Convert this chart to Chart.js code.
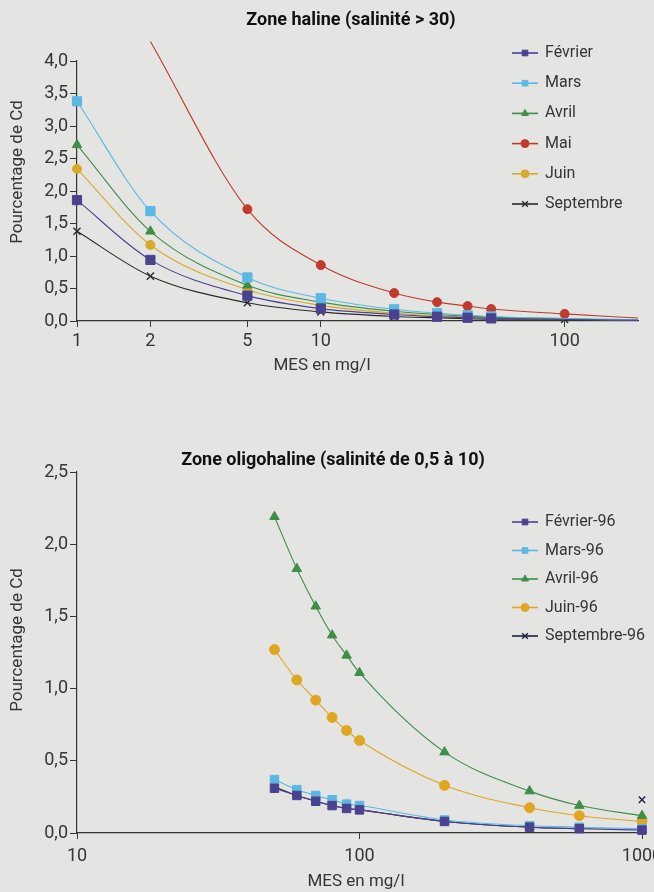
<!DOCTYPE html>
<html lang="fr">
<head>
<meta charset="utf-8">
<title>Pourcentage de Cd en fonction des MES</title>
<script src="https://cdn.jsdelivr.net/npm/chart.js@4.4.0/dist/chart.umd.min.js"></script>
<style>
  html, body { margin: 0; padding: 0; background: #e4e5e2; overflow: hidden; width: 654px; height: 892px; }
  canvas { position: absolute; left: 0; }
  #haline { top: 0; }
  #oligo { top: 440px; }
</style>
</head>
<body>
<canvas id="haline" width="680" height="390"></canvas>
<canvas id="oligo" width="680" height="452"></canvas>
<script>
// ---- DATA: zone haline (salinité > 30) ----
const hX = [1, 2, 5, 10, 20, 30, 40, 50, 100];
const hTicks = [1, 2, 5, 10, 100];
const hFevrier   = [1.86, 0.94, 0.39, 0.19, 0.10, 0.066, 0.050, 0.040, null];
const hMars      = [3.38, 1.69, 0.67, 0.35, 0.18, 0.12, 0.090, 0.070, null];
const hAvril     = [2.71, 1.38, 0.55, 0.29, 0.15, 0.10, 0.075, 0.060, null];
const hMai       = [null, null, 1.72, 0.86, 0.43, 0.29, 0.23, 0.185, 0.11];
const hJuin      = [2.34, 1.17, 0.48, 0.24, 0.12, 0.08, 0.060, 0.048, null];
const hSeptembre = [1.38, 0.69, 0.28, 0.14, 0.07, 0.05, 0.035, 0.028, 0.025];
// the fitted curves run on past the markers (no marker drawn there)
const hCurveEndX = 200;
const hCurveEnd = [0.010, 0.017, 0.014, 0.045, 0.012, 0.008];
const hMaiCurveStart = [2, 4.3];

// ---- DATA: zone oligohaline (salinité de 0,5 à 10) ----
const oX = [50, 60, 70, 80, 90, 100, 200, 400, 600, 1000];
const oTicks = [10, 100, 1000];
const oFevrier   = [0.31, 0.26, 0.22, 0.19, 0.17, 0.16, 0.08, 0.04, 0.03, 0.02];
const oMars      = [0.37, 0.30, 0.26, 0.23, 0.20, 0.19, 0.09, 0.05, 0.04, 0.03];
const oAvril     = [2.19, 1.83, 1.57, 1.37, 1.23, 1.11, 0.56, 0.29, 0.19, 0.12];
const oJuin      = [1.27, 1.06, 0.92, 0.80, 0.71, 0.64, 0.33, 0.175, 0.12, 0.08];
const oSeptembre = [0.32, 0.26, 0.22, 0.19, 0.17, 0.16, 0.08, 0.04, 0.03, 0.23];

const FONT = "Roboto, 'Liberation Sans', sans-serif";
const INK = '#353535';

// ---- helpers ----
function points(xs, ys) {
    return xs.map((x, i) => ({ x: x, y: ys[i], m: true })).filter(p => p.y !== null);
}

function series(label, color, style, radius, pts) {
    return {
        label: label,
        data: pts.sort((a, b) => a.x - b.x),
        borderColor: color,
        backgroundColor: color,
        borderWidth: 1.1,
        pointStyle: style,
        pointRadius: ctx => (ctx.raw && ctx.raw.m ? radius : 0),
        pointBorderWidth: style === 'crossRot' ? 1.4 : 1,
        pointBorderColor: color,
        pointBackgroundColor: color,
        cubicInterpolationMode: 'monotone',
        spanGaps: true,
        clip: false
    };
}

function decimal(v) {
    return Number(v).toFixed(1).replace('.', ',');
}

function axes(xMin, xMax, xTicks, yMax, xHeight, xPad) {
    return {
        x: {
            type: 'logarithmic',
            min: xMin,
            max: xMax,
            afterBuildTicks: s => { s.ticks = xTicks.map(v => ({ value: v })); },
            afterFit: s => { s.height = xHeight; },
            ticks: { color: INK, font: { family: FONT, size: 18 }, padding: xPad, maxRotation: 0, callback: v => String(v) },
            grid: { drawOnChartArea: false, drawTicks: true, tickLength: 6, color: INK, lineWidth: 1 },
            border: { color: INK, width: 1.2 }
        },
        y: {
            min: 0,
            max: yMax,
            afterFit: s => { s.width = 77; },
            ticks: { stepSize: 0.5, color: INK, font: { family: FONT, size: 18 }, padding: 2, callback: decimal },
            grid: { drawOnChartArea: false, drawTicks: true, tickLength: 7, color: INK, lineWidth: 1 },
            border: { color: INK, width: 1.2 }
        }
    };
}

// titles, axis titles and the in-plot legend
const textPlugin = {
    id: 'texts',
    afterDraw(chart, args, o) {
        const ctx = chart.ctx;
        ctx.save();
        ctx.fillStyle = '#111';
        ctx.textAlign = 'center';
        ctx.textBaseline = 'middle';
        ctx.font = 'bold 18px ' + FONT;
        ctx.fillText(o.title[0], o.title[1], o.title[2]);
        ctx.fillStyle = INK;
        ctx.font = '17px ' + FONT;
        ctx.fillText(o.xTitle[0], o.xTitle[1], o.xTitle[2]);
        ctx.save();
        ctx.translate(o.yTitle[1], o.yTitle[2]);
        ctx.rotate(-Math.PI / 2);
        ctx.fillText(o.yTitle[0], 0, 0);
        ctx.restore();

        // legend
        const [lx, ly, step] = o.legend;
        chart.data.datasets.forEach((ds, i) => {
            const y = ly + i * step;
            ctx.strokeStyle = ds.borderColor;
            ctx.fillStyle = ds.borderColor;
            ctx.lineWidth = 1.6;
            ctx.beginPath();
            ctx.moveTo(lx, y);
            ctx.lineTo(lx + 26, y);
            ctx.stroke();
            if (Chart.helpers && Chart.helpers.drawPoint) {
                ctx.lineWidth = ds.pointBorderWidth;
                Chart.helpers.drawPoint(ctx, { pointStyle: ds.pointStyle, radius: 4, rotation: 0, borderWidth: ds.pointBorderWidth }, lx + 13, y);
            }
            ctx.fillStyle = INK;
            ctx.textAlign = 'left';
            ctx.font = '16px ' + FONT;
            ctx.fillText(ds.label, lx + 33, y);
        });
        ctx.restore();
    }
};

// ---- chart 1: zone haline ----
const hCurveEndPts = i => [{ x: hCurveEndX, y: hCurveEnd[i], m: false }];

new Chart(document.getElementById('haline'), {
    type: 'line',
    data: {
        datasets: [
            series('Février', '#4a428f', 'rect', 6.5, points(hX, hFevrier).concat(hCurveEndPts(0))),
            series('Mars', '#5bb8e3', 'rect', 6.5, points(hX, hMars).concat(hCurveEndPts(1))),
            series('Avril', '#3f8e48', 'triangle', 5.5, points(hX, hAvril).concat(hCurveEndPts(2))),
            series('Mai', '#c23a2c', 'circle', 4.5,
                points(hX, hMai).concat(hCurveEndPts(3), [{ x: hMaiCurveStart[0], y: hMaiCurveStart[1], m: false }])),
            series('Juin', '#d6aa2a', 'circle', 4.5, points(hX, hJuin).concat(hCurveEndPts(4))),
            series('Septembre', '#2a2a2a', 'crossRot', 5, points(hX, hSeptembre).concat(hCurveEndPts(5)))
        ]
    },
    options: {
        responsive: false,
        animation: false,
        layout: { padding: { top: 61, right: 42, bottom: 0, left: 0 } },
        scales: axes(1, 200, hTicks, 4, 69, 4),
        plugins: {
            legend: { display: false },
            tooltip: { enabled: false },
            texts: {
                title: ['Zone haline (salinité > 30)', 351, 20],
                xTitle: ['MES en mg/l', 322, 366],
                yTitle: ['Pourcentage de Cd', 18, 172],
                legend: [512, 53, 30.2]
            }
        }
    },
    plugins: [textPlugin]
});

// ---- chart 2: zone oligohaline ----
const oSeptLast = oX.length - 1;

const oDatasets = [
    series('Février-96', '#4a428f', 'rect', 6, points(oX, oFevrier)),
    series('Mars-96', '#5bb8e3', 'rect', 6, points(oX, oMars)),
    series('Avril-96', '#3f8e48', 'triangle', 5.5, points(oX, oAvril)),
    series('Juin-96', '#e0a622', 'circle', 5, points(oX, oJuin)),
    series('Septembre-96', '#1e2044', 'crossRot', 4.5, points(oX, oSeptembre))
];
// the last Septembre point stands alone, not joined to the curve
oDatasets[4].segment = { borderColor: ctx => (ctx.p1DataIndex === oSeptLast ? 'rgba(0,0,0,0)' : undefined) };

new Chart(document.getElementById('oligo'), {
    type: 'line',
    data: { datasets: oDatasets },
    options: {
        responsive: false,
        animation: false,
        layout: { padding: { top: 32, right: 38, bottom: 0, left: 0 } },
        scales: axes(10, 1000, oTicks, 2.5, 59, 7),
        plugins: {
            legend: { display: false },
            tooltip: { enabled: false },
            texts: {
                title: ['Zone oligohaline (salinité de 0,5 à 10)', 333, 20],
                xTitle: ['MES en mg/l', 356, 442],
                yTitle: ['Pourcentage de Cd', 18, 200],
                legend: [512, 82, 28.5]
            }
        }
    },
    plugins: [textPlugin]
});
</script>
</body>
</html>
